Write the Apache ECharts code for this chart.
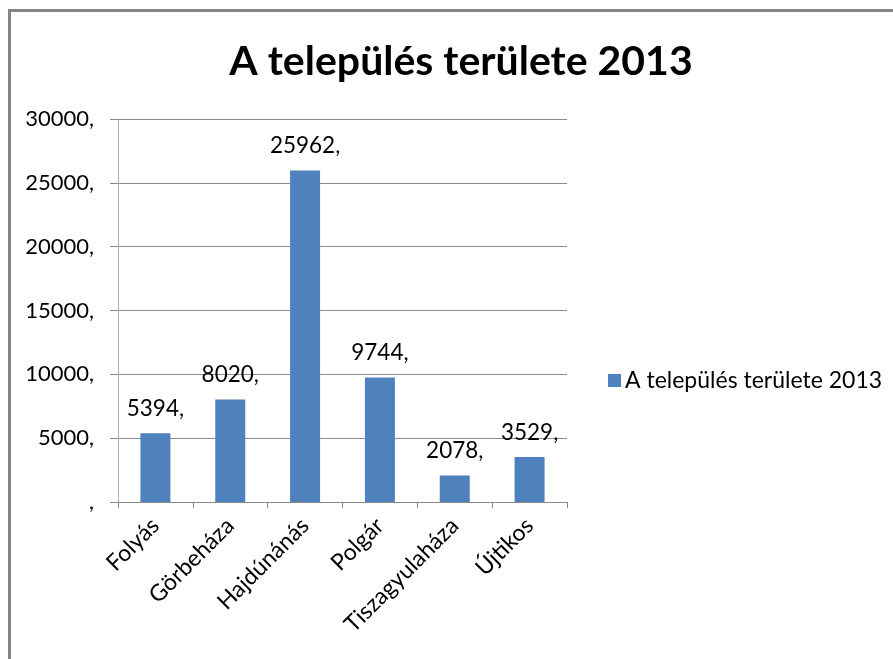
<!DOCTYPE html>
<html>
<head>
<meta charset="utf-8">
<script src="https://cdn.jsdelivr.net/npm/echarts@6/dist/echarts.min.js"></script>
<style>
html,body{margin:0;padding:0;background:#fff;width:893px;height:659px;overflow:hidden;}
#frame{position:absolute;left:8px;top:9px;width:1000px;height:800px;border-left:3px solid #858585;border-top:3px solid #858585;box-sizing:border-box;}
#chart{position:absolute;left:0;top:0;width:893px;height:659px;}
</style>
</head>
<body>
<div id="frame"></div>
<div id="chart"></div>
<script>
const titleText = 'A település területe 2013';
const seriesName = 'A település területe 2013';
const categories = ['Folyás', 'Görbeháza', 'Hajdúnánás', 'Polgár', 'Tiszagyulaháza', 'Újtikos'];
const values = [5394, 8020, 25962, 9744, 2078, 3529];
const yTicks = [0, 5000, 10000, 15000, 20000, 25000, 30000];

const FONT = 'Lato, "Open Sans", sans-serif';
const chart = echarts.init(document.getElementById('chart'), null, {renderer: 'canvas'});
chart.setOption({
  backgroundColor: 'transparent',
  animation: false,
  title: {
    text: titleText,
    left: 456, top: 36, textAlign: 'center',
    textStyle: {fontFamily: FONT, fontSize: 41, fontWeight: 'bold', color: '#000'}
  },
  legend: {
    left: 603, top: 364,
    itemWidth: 13, itemHeight: 13, itemGap: 8,
    icon: 'rect',
    textStyle: {fontFamily: FONT, fontSize: 23, color: '#000', padding: [0,0,0,-1]},
    data: [seriesName]
  },
  grid: {left: 118, right: 326, top: 119, bottom: 157, containLabel: false},
  xAxis: {
    type: 'category',
    data: categories,
    axisLine: {lineStyle: {color: '#888', width: 1}},
    axisTick: {show: true, length: 6, lineStyle: {color: '#888'}},
    axisLabel: {rotate: 45, margin: 20, fontFamily: FONT, fontSize: 23, color: '#000', interval: 0}
  },
  yAxis: {
    type: 'value',
    min: yTicks[0], max: yTicks[yTicks.length - 1], interval: yTicks[1] - yTicks[0],
    axisLine: {show: true, lineStyle: {color: '#b0b0b0'}},
    axisTick: {show: true, length: 8, lineStyle: {color: '#888'}},
    splitLine: {lineStyle: {color: '#8c8c8c', width: 1}},
    axisLabel: {
      margin: 24, fontFamily: FONT, fontSize: 22, color: '#000',
      formatter: function (v) { return (v === 0 ? '' : v) + ','; }
    }
  },
  series: [{
    name: seriesName,
    type: 'bar',
    data: values,
    barWidth: 30,
    itemStyle: {color: '#4F81BD'},
    label: {
      show: true, position: 'top', distance: 13,
      fontFamily: FONT, fontSize: 22.5, color: '#000',
      formatter: function (p) { return p.value + ','; }
    }
  }]
});
</script>
</body>
</html>
